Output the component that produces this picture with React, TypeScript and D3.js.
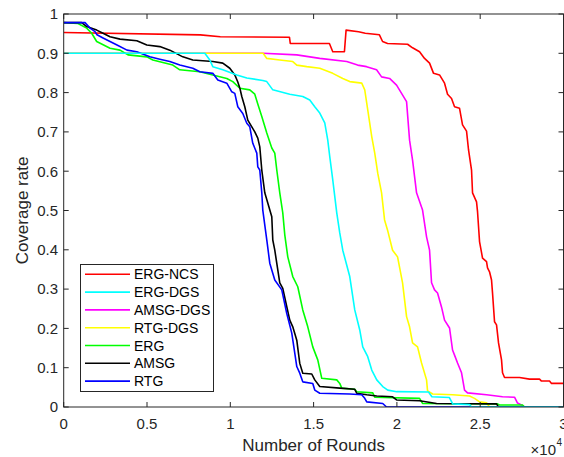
import React from "react";
import * as d3 from "d3";

const seriesNames = ["ERG-NCS", "ERG-DGS", "AMSG-DGS", "RTG-DGS", "ERG", "AMSG", "RTG"];
const seriesColors = ["#ff0000", "#00ffff", "#ff00ff", "#ffff00", "#00ff00", "#000000", "#0000ff"];

const ergNcs: [number, number][] = [
  [0, 0.953], [8200, 0.947], [9400, 0.942], [13550, 0.941], [13600, 0.925], [15950, 0.925],
  [16150, 0.904], [16850, 0.904], [16950, 0.959], [17700, 0.955], [18100, 0.951], [18950, 0.947],
  [19140, 0.93], [19440, 0.925], [20640, 0.923], [20940, 0.914], [21360, 0.904], [21660, 0.887],
  [21960, 0.875], [22200, 0.849], [22560, 0.845], [22860, 0.824], [23040, 0.796], [23280, 0.785],
  [23460, 0.764], [23760, 0.76], [23940, 0.718], [24180, 0.702], [24300, 0.654], [24480, 0.603],
  [24540, 0.545], [24780, 0.522], [24840, 0.497], [24960, 0.421], [25140, 0.379], [25380, 0.37],
  [25440, 0.354], [25560, 0.344], [25680, 0.323], [25740, 0.29], [25860, 0.217], [25980, 0.209],
  [26100, 0.163], [26280, 0.12], [26340, 0.087], [26460, 0.075], [27360, 0.075], [27960, 0.071],
  [28560, 0.071], [28680, 0.066], [29160, 0.066], [29280, 0.06], [30000, 0.06],
];

const ergDgs: [number, number][] = [
  [0, 0.9], [8470, 0.9], [8770, 0.883], [8950, 0.866], [9550, 0.858], [10390, 0.845], [10990, 0.837],
  [11950, 0.831], [12190, 0.828], [12550, 0.807], [13570, 0.796], [14350, 0.79], [14770, 0.781],
  [15070, 0.764], [15370, 0.748], [15670, 0.723], [15850, 0.679], [15970, 0.637], [16150, 0.578],
  [16390, 0.494], [16570, 0.443], [16750, 0.399], [17170, 0.332], [17470, 0.247], [17770, 0.196],
  [17950, 0.153], [18250, 0.128], [18490, 0.094], [18790, 0.069], [19150, 0.052], [19450, 0.043],
  [19990, 0.039], [21900, 0.038], [22100, 0.026], [23150, 0.024], [23350, 0.008], [24360, 0.006],
  [24480, 0], [30000, 0],
];

const amsgDgs: [number, number][] = [
  [0, 0.9], [11970, 0.9], [13990, 0.896], [15370, 0.887], [16990, 0.879], [17640, 0.87], [18180, 0.866],
  [18780, 0.858], [19080, 0.84], [19560, 0.836], [19980, 0.819], [20280, 0.798], [20580, 0.777],
  [20760, 0.679], [20940, 0.628], [21180, 0.545], [21540, 0.501], [21780, 0.433], [21960, 0.399],
  [22080, 0.316], [22260, 0.298], [22440, 0.29], [22680, 0.254], [22860, 0.221], [23160, 0.201],
  [23340, 0.145], [23460, 0.132], [23640, 0.112], [23880, 0.087], [24060, 0.043], [24240, 0.036],
  [25380, 0.031], [26340, 0.026], [27060, 0.025], [27240, 0.01], [27480, 0.005], [27660, 0], [30000, 0],
];

const rtgDgs: [number, number][] = [
  [0, 0.9], [11970, 0.9], [12190, 0.887], [12970, 0.883], [13750, 0.879], [13990, 0.87], [14590, 0.866],
  [15370, 0.862], [16150, 0.849], [16750, 0.836], [17170, 0.828], [17890, 0.824], [18070, 0.807],
  [18250, 0.756], [18490, 0.688], [18670, 0.646], [18850, 0.595], [19080, 0.545], [19260, 0.476],
  [19440, 0.45], [19740, 0.399], [20040, 0.382], [20340, 0.316], [20580, 0.23], [20760, 0.204],
  [20940, 0.163], [21240, 0.153], [21480, 0.112], [21780, 0.069], [21840, 0.041], [22150, 0.033],
  [23350, 0.031], [24360, 0.028], [24660, 0.022], [24960, 0.013], [25380, 0.011], [25560, 0], [30000, 0],
];

const erg: [number, number][] = [
  [0, 0.978], [860, 0.976], [1380, 0.964], [1680, 0.951], [1980, 0.93], [2780, 0.913], [3380, 0.908],
  [3860, 0.896], [4990, 0.891], [5350, 0.883], [6550, 0.87], [6970, 0.858], [8170, 0.853], [8950, 0.845],
  [9790, 0.836], [10150, 0.828], [10570, 0.811], [11170, 0.807], [11470, 0.796], [11650, 0.771],
  [11890, 0.739], [12190, 0.697], [12490, 0.659], [12670, 0.646], [12790, 0.603], [12970, 0.545],
  [13150, 0.494], [13270, 0.438], [13450, 0.382], [13750, 0.332], [14050, 0.306], [14350, 0.247],
  [14650, 0.204], [14950, 0.153], [15250, 0.12], [15490, 0.073], [16390, 0.069], [16570, 0.06],
  [16690, 0.048], [17470, 0.045], [17590, 0.039], [18550, 0.036], [18670, 0.025], [21360, 0.022],
  [21540, 0.009], [26040, 0.008], [26160, 0.005], [27540, 0.005], [27660, 0], [30000, 0],
];

const amsg: [number, number][] = [
  [0, 0.978], [1080, 0.978], [1380, 0.968], [1980, 0.959], [2360, 0.951], [2780, 0.942], [3380, 0.936],
  [4390, 0.932], [4990, 0.921], [5770, 0.917], [6370, 0.908], [7150, 0.891], [7750, 0.883], [8950, 0.879],
  [9550, 0.875], [9970, 0.862], [10270, 0.845], [10450, 0.827], [10570, 0.812], [10690, 0.79],
  [10870, 0.764], [11050, 0.73], [11470, 0.7], [11650, 0.684], [11770, 0.662], [11890, 0.603],
  [12070, 0.545], [12250, 0.519], [12490, 0.484], [12550, 0.425], [12670, 0.399], [12970, 0.316],
  [13150, 0.302], [13390, 0.255], [13570, 0.221], [13750, 0.204], [13990, 0.17], [14170, 0.111],
  [14350, 0.086], [14890, 0.084], [15070, 0.069], [15370, 0.052], [16570, 0.048], [17470, 0.045],
  [17590, 0.035], [18190, 0.031], [18790, 0.028], [19740, 0.026], [19980, 0.018], [21360, 0.016],
  [22380, 0.009], [25980, 0.008], [26100, 0], [30000, 0],
];

const rtg: [number, number][] = [
  [0, 0.978], [1280, 0.978], [1580, 0.964], [1880, 0.955], [2000, 0.947], [2360, 0.939], [2780, 0.93],
  [3200, 0.921], [3800, 0.908], [4390, 0.904], [5170, 0.891], [5770, 0.885], [6370, 0.879], [6970, 0.87],
  [7750, 0.862], [8170, 0.853], [8950, 0.849], [9250, 0.832], [9790, 0.824], [10090, 0.802],
  [10270, 0.798], [10450, 0.764], [10750, 0.747], [10990, 0.722], [11170, 0.713], [11350, 0.671],
  [11590, 0.646], [11650, 0.611], [11770, 0.603], [11890, 0.545], [11950, 0.501], [12190, 0.425],
  [12370, 0.366], [12670, 0.323], [13090, 0.298], [13390, 0.238], [13690, 0.188], [13870, 0.137],
  [13990, 0.103], [14170, 0.086], [14350, 0.064], [14950, 0.06], [15070, 0.043], [15370, 0.035],
  [17170, 0.033], [17890, 0.031], [18070, 0.022], [18190, 0.013], [19150, 0.009], [19380, 0], [30000, 0],
];

const seriesData = [ergNcs, ergDgs, amsgDgs, rtgDgs, erg, amsg, rtg];
const drawOrder = [0, 2, 3, 4, 5, 6, 1];

const xTicks = [0, 5000, 10000, 15000, 20000, 25000, 30000];
const xTickLabels = ["0", "0.5", "1", "1.5", "2", "2.5", "3"];
const yTicks = [0, 0.1, 0.2, 0.3, 0.4, 0.5, 0.6, 0.7, 0.8, 0.9, 1];
const yTickLabels = ["0", "0.1", "0.2", "0.3", "0.4", "0.5", "0.6", "0.7", "0.8", "0.9", "1"];

const W = 564;
const H = 457;
const L = 63.7;
const R = 563.5;
const T = 14;
const B = 407;
const axisColor = "#262626";
const font = "'Liberation Sans', Arial, Helvetica, sans-serif";

export default function App() {
  const x = d3.scaleLinear().domain([0, 30000]).range([L, R]);
  const y = d3.scaleLinear().domain([0, 1]).range([B, T]);
  const line = d3
    .line<[number, number]>()
    .x((d) => x(d[0]))
    .y((d) => y(d[1]));
  const tl = 5;
  const legX = 80.5;
  const legY = 264.5;
  const legW = 133;
  const legH = 127;
  const rowY0 = 274.3;
  const rowDy = 17.8;

  return (
    <svg
      width={W}
      height={H}
      style={{ position: "absolute", left: 0, top: 0, background: "#fff" }}
      fontFamily={font}
    >
      <rect x={0} y={0} width={W} height={H} fill="#fff" />
      <defs>
        <clipPath id="plotclip">
          <rect x={L} y={T} width={R - L} height={B - T} />
        </clipPath>
      </defs>
      <g clipPath="url(#plotclip)">
        {drawOrder.map((i) => (
          <path
            key={seriesNames[i]}
            d={line(seriesData[i]) || ""}
            fill="none"
            stroke={seriesColors[i]}
            strokeWidth={1.6}
            strokeLinejoin="round"
          />
        ))}
      </g>
      <rect x={L} y={T} width={R - L} height={B - T} fill="none" stroke={axisColor} strokeWidth={1} />
      {xTicks.map((t, i) => (
        <g key={"xt" + i}>
          <line x1={x(t)} x2={x(t)} y1={B} y2={B - tl} stroke={axisColor} />
          <line x1={x(t)} x2={x(t)} y1={T} y2={T + tl} stroke={axisColor} />
          <text x={x(t)} y={429} textAnchor="middle" fontSize={15} fill={axisColor}>
            {xTickLabels[i]}
          </text>
        </g>
      ))}
      {yTicks.map((t, i) => (
        <g key={"yt" + i}>
          <line x1={L} x2={L + tl} y1={y(t)} y2={y(t)} stroke={axisColor} />
          <line x1={R} x2={R - tl} y1={y(t)} y2={y(t)} stroke={axisColor} />
          <text x={58} y={y(t) + 5.3} textAnchor="end" fontSize={15} fill={axisColor}>
            {yTickLabels[i]}
          </text>
        </g>
      ))}
      <text x={556} y={455} textAnchor="end" fontSize={15} fill={axisColor}>
        ×10
      </text>
      <text x={556.5} y={446} fontSize={10} fill={axisColor}>
        4
      </text>
      <text x={(L + R) / 2} y={451} textAnchor="middle" fontSize={17} fill={axisColor}>
        Number of Rounds
      </text>
      <text
        transform={`translate(28,${(T + B) / 2}) rotate(-90)`}
        textAnchor="middle"
        fontSize={17}
        fill={axisColor}
      >
        Coverage rate
      </text>
      <rect x={legX} y={legY} width={legW} height={legH} fill="#fff" stroke={axisColor} strokeWidth={1} />
      {seriesNames.map((n, i) => (
        <g key={"lg" + i}>
          <line
            x1={85}
            x2={130}
            y1={rowY0 + i * rowDy}
            y2={rowY0 + i * rowDy}
            stroke={seriesColors[i]}
            strokeWidth={1.6}
          />
          <text x={134} y={rowY0 + i * rowDy + 5} fontSize={14} fill="#000">
            {n}
          </text>
        </g>
      ))}
    </svg>
  );
}
